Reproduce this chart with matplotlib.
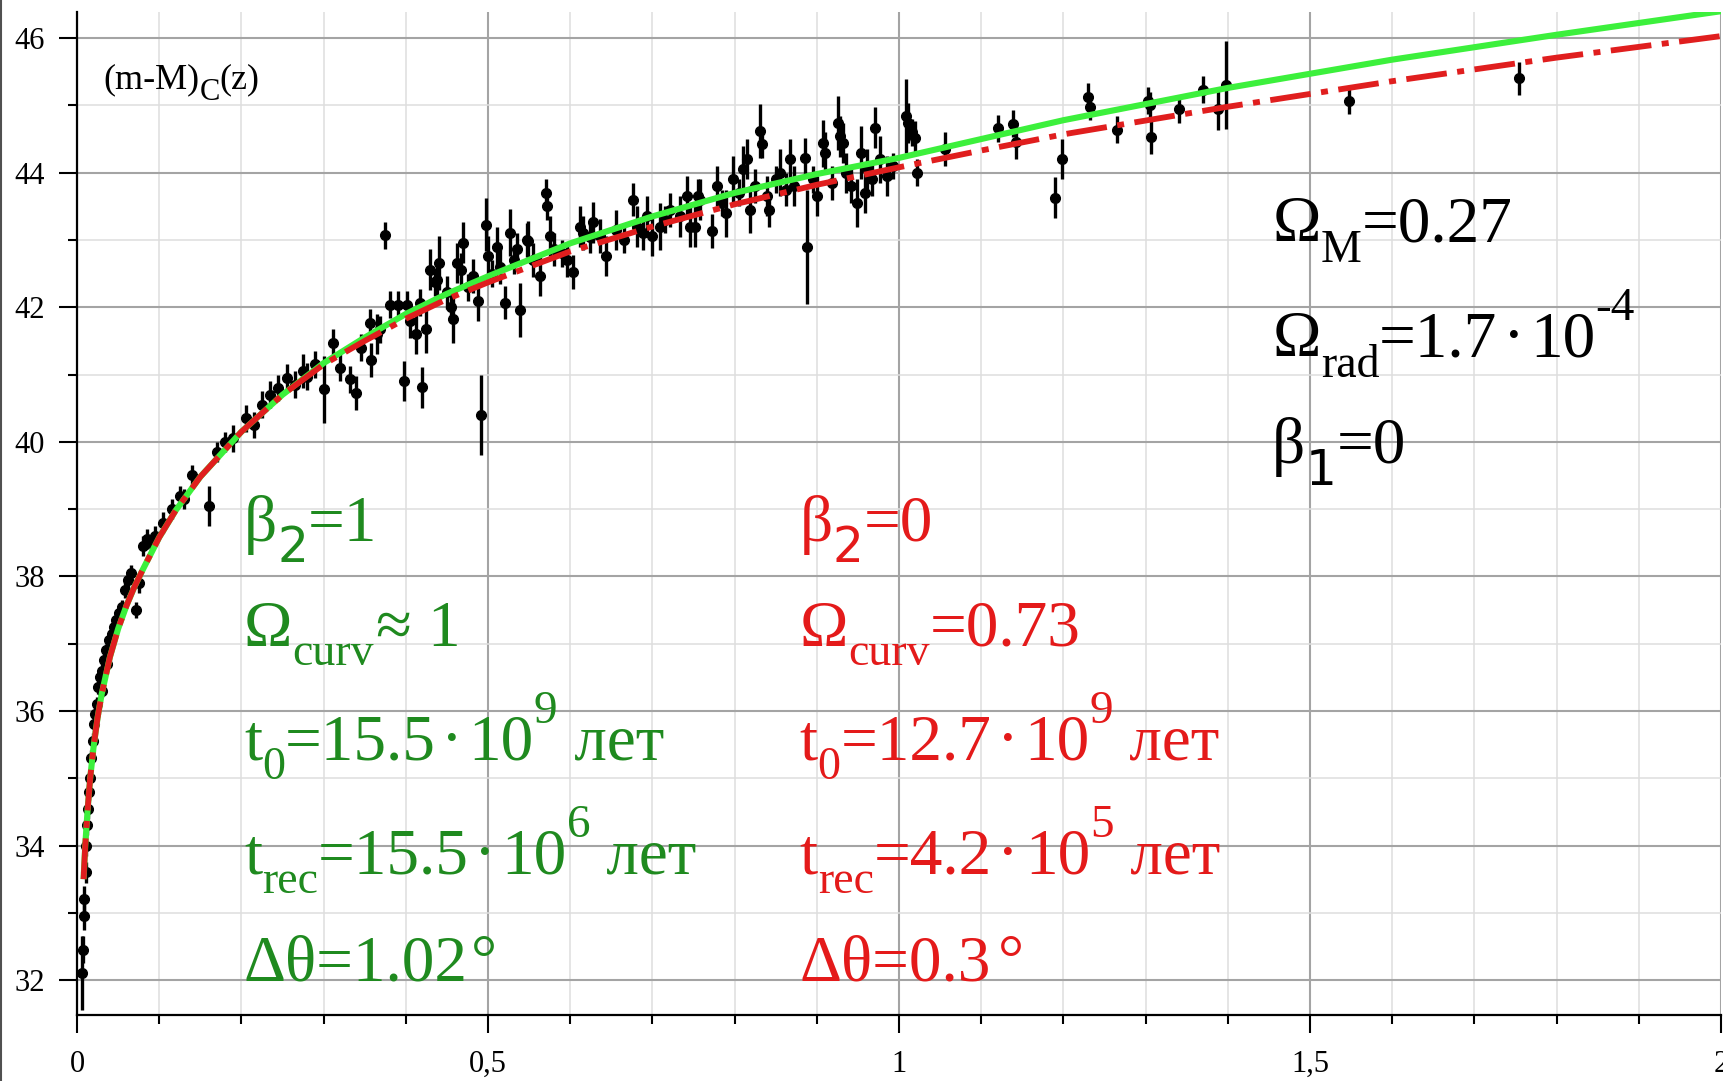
import matplotlib
matplotlib.use("Agg")
import matplotlib.pyplot as plt
from matplotlib.ticker import MultipleLocator, FixedLocator, FixedFormatter
from matplotlib.lines import Line2D

plt.rcParams['font.family'] = ['Liberation Serif', 'DejaVu Serif']

# model curves
z_curve = [0.008, 0.01, 0.013, 0.016, 0.02, 0.025, 0.03, 0.04, 0.05, 0.06, 0.07,
           0.08, 0.1, 0.12, 0.15, 0.2, 0.25, 0.3, 0.35, 0.4, 0.45, 0.5, 0.6,
           0.7, 0.8, 0.9, 1.0, 1.1, 1.2, 1.4, 1.6, 1.8, 2.0]
mu_beta1 = [33.5, 34.0, 34.55, 35.0, 35.45, 35.9, 36.25, 36.8, 37.22, 37.56, 37.85,
            38.1, 38.58, 38.98, 39.48, 40.15, 40.7, 41.17, 41.55, 41.9, 42.2, 42.46, 42.95,
            43.35, 43.7, 43.98, 44.22, 44.5, 44.78, 45.26, 45.68, 46.05, 46.4]
mu_beta0 = [33.5, 34.0, 34.55, 35.0, 35.45, 35.9, 36.25, 36.8, 37.22, 37.56, 37.85,
            38.1, 38.58, 38.98, 39.48, 40.15, 40.7, 41.15, 41.5, 41.83, 42.12, 42.37, 42.83,
            43.2, 43.53, 43.82, 44.08, 44.33, 44.57, 44.98, 45.36, 45.71, 46.03]

# supernova data: redshift, distance modulus, error
z_sn = [0.0065, 0.0075, 0.0085, 0.009, 0.0105, 0.011, 0.0125, 0.0135, 0.0145, 0.016,
        0.017, 0.019, 0.0205, 0.022, 0.024, 0.026, 0.028, 0.03, 0.031, 0.033,
        0.035, 0.037, 0.039, 0.042, 0.045, 0.048, 0.051, 0.055, 0.058, 0.062,
        0.066, 0.072, 0.076, 0.08, 0.085, 0.09, 0.095,
        0.105, 0.115, 0.125, 0.13, 0.14, 0.16, 0.17, 0.18, 0.19, 0.205,
        0.215, 0.225, 0.235, 0.245, 0.255, 0.265, 0.275, 0.28, 0.29, 0.30,
        0.312, 0.32, 0.332, 0.34, 0.345, 0.356, 0.358, 0.365, 0.369, 0.375,
        0.381, 0.391, 0.398, 0.401, 0.405, 0.412, 0.417, 0.42, 0.425, 0.43,
        0.435, 0.438, 0.44, 0.45, 0.455, 0.458, 0.462, 0.467, 0.47, 0.476,
        0.482, 0.488, 0.492, 0.498, 0.5, 0.505, 0.511, 0.515, 0.521, 0.527,
        0.532, 0.535, 0.539, 0.547, 0.549, 0.555, 0.563, 0.57, 0.572, 0.575,
        0.58, 0.59, 0.596, 0.603, 0.612, 0.616, 0.624, 0.628, 0.636, 0.644,
        0.656, 0.665, 0.677, 0.681, 0.689, 0.693, 0.70, 0.709, 0.715, 0.721,
        0.734, 0.742, 0.746, 0.752, 0.755, 0.758, 0.772, 0.778, 0.785, 0.79,
        0.798, 0.805, 0.81, 0.815, 0.819, 0.825, 0.831, 0.833, 0.839, 0.842,
        0.85, 0.855, 0.862, 0.867, 0.872, 0.886, 0.888, 0.895, 0.90, 0.908,
        0.91, 0.918, 0.926, 0.928, 0.932, 0.936, 0.942, 0.949, 0.954, 0.959,
        0.961, 0.967, 0.971, 0.977, 0.985, 0.993, 1.009, 1.011, 1.016, 1.02,
        1.022, 1.056, 1.12, 1.139, 1.142, 1.19, 1.198, 1.23, 1.232, 1.265,
        1.303, 1.305, 1.307, 1.341, 1.37, 1.388, 1.398, 1.548, 1.754]
mu_sn = [32.1, 32.45, 32.95, 33.2, 33.6, 34.0, 34.3, 34.55, 34.8, 35.0,
         35.3, 35.55, 35.8, 35.95, 36.1, 36.35, 36.5, 36.6, 36.3, 36.75,
         36.9, 36.7, 37.05, 37.15, 37.25, 37.35, 37.45, 37.55, 37.8, 37.95,
         38.05, 37.5, 37.9, 38.45, 38.55, 38.5, 38.6,
         38.8, 39.0, 39.2, 39.15, 39.5, 39.05, 39.85, 40.0, 40.05, 40.35,
         40.25, 40.55, 40.7, 40.8, 40.95, 40.85, 41.05, 40.97, 41.15, 40.78,
         41.47, 41.1, 40.93, 40.73, 41.4, 41.77, 41.22, 41.6, 41.67, 43.07,
         42.04, 42.04, 40.9, 42.04, 41.8, 41.6, 42.07, 40.81, 41.67, 42.56,
         42.37, 42.41, 42.66, 42.22, 42.0, 41.82, 42.66, 42.55, 42.96, 42.3,
         42.46, 42.1, 40.4, 43.23, 42.76, 42.5, 42.9, 42.6, 42.07, 43.11,
         42.7, 42.86, 41.96, 43.0, 42.98, 42.7, 42.46, 43.7, 43.5, 43.06,
         42.86, 42.8, 42.7, 42.52, 43.2, 43.1, 43.05, 43.26, 43.06, 42.76,
         43.15, 43.0, 43.6, 43.2, 43.1, 43.35, 43.06, 43.2, 43.3, 43.45,
         43.35, 43.65, 43.2, 43.2, 43.65, 43.6, 43.13, 43.8, 43.55, 43.4,
         43.9, 43.7, 44.05, 44.2, 43.45, 43.8, 44.62, 44.42, 43.65, 43.45,
         43.9, 44.0, 43.75, 44.2, 43.8, 44.22, 42.9, 43.9, 43.65, 44.44,
         44.3, 43.85, 44.74, 44.54, 44.44, 44.0, 43.8, 43.55, 44.3, 43.7,
         44.05, 43.9, 44.67, 44.2, 43.95, 44.1, 44.84, 44.74, 44.6, 44.52,
         44.0, 44.35, 44.66, 44.73, 44.45, 43.63, 44.2, 45.13, 44.98, 44.64,
         45.07, 45.0, 44.53, 44.94, 45.23, 44.94, 45.3, 45.07, 45.4]
err_sn = [0.55, 0.2, 0.2, 0.2, 0.15, 0.15, 0.15, 0.15, 0.12, 0.12,
          0.12, 0.12, 0.12, 0.12, 0.1, 0.1, 0.1, 0.12, 0.1, 0.1,
          0.1, 0.1, 0.1, 0.1, 0.1, 0.1, 0.1, 0.1, 0.12, 0.12,
          0.12, 0.12, 0.15, 0.15, 0.15, 0.12, 0.15,
          0.15, 0.15, 0.15, 0.15, 0.15, 0.3, 0.15, 0.15, 0.2, 0.2,
          0.2, 0.2, 0.2, 0.2, 0.2, 0.2, 0.25, 0.2, 0.2, 0.5,
          0.2, 0.2, 0.2, 0.25, 0.2, 0.2, 0.25, 0.3, 0.2, 0.2,
          0.2, 0.2, 0.3, 0.2, 0.25, 0.3, 0.2, 0.3, 0.35, 0.3,
          0.2, 0.25, 0.4, 0.25, 0.2, 0.35, 0.3, 0.25, 0.3, 0.2,
          0.25, 0.3, 0.6, 0.4, 0.3, 0.2, 0.3, 0.25, 0.25, 0.35,
          0.2, 0.25, 0.4, 0.25, 0.3, 0.25, 0.3, 0.2, 0.2, 0.3,
          0.25, 0.2, 0.25, 0.25, 0.3, 0.25, 0.25, 0.3, 0.25, 0.3,
          0.3, 0.2, 0.25, 0.3, 0.25, 0.3, 0.3, 0.35, 0.2, 0.25,
          0.3, 0.3, 0.3, 0.3, 0.25, 0.3, 0.25, 0.3, 0.2, 0.35,
          0.35, 0.2, 0.35, 0.3, 0.35, 0.25, 0.4, 0.2, 0.3, 0.25,
          0.2, 0.35, 0.25, 0.3, 0.3, 0.3, 0.85, 0.2, 0.3, 0.35,
          0.3, 0.25, 0.4, 0.3, 0.3, 0.3, 0.25, 0.35, 0.4, 0.3,
          0.3, 0.25, 0.3, 0.35, 0.3, 0.2, 0.55, 0.3, 0.2, 0.25,
          0.2, 0.25, 0.2, 0.2, 0.25, 0.3, 0.3, 0.2, 0.2, 0.2,
          0.2, 0.2, 0.25, 0.2, 0.2, 0.3, 0.65, 0.2, 0.25]

x_ticks = [0, 0.5, 1, 1.5, 2]
x_labels = ['0', '0,5', '1', '1,5', '2']
y_ticks = [32, 34, 36, 38, 40, 42, 44, 46]

green_text = '#1f8a1f'
red_text = '#e41a1a'

fig = plt.figure(figsize=(17.23, 10.81), dpi=100)
ax = fig.add_axes([0.0447, 0.061, 0.9541, 0.928])

ax.errorbar(z_sn, mu_sn, yerr=err_sn, fmt='o', color='black', ms=7,
            elinewidth=2.4, capsize=0, zorder=3)
ax.plot(z_curve, mu_beta1, color='#3cf03c', lw=4.4, zorder=4,
        solid_capstyle='butt')
ax.plot(z_curve, mu_beta0, color='#e01e1e', lw=4.2, zorder=5,
        dashes=(7, 1.8, 1.2, 1.8), dash_capstyle='butt')

ax.set_xlim(0, 2)
ax.set_ylim(31.48, 46.39)

ax.xaxis.set_major_locator(FixedLocator(x_ticks))
ax.xaxis.set_major_formatter(FixedFormatter(x_labels))
ax.xaxis.set_minor_locator(MultipleLocator(0.1))
ax.yaxis.set_major_locator(FixedLocator(y_ticks))
ax.yaxis.set_minor_locator(MultipleLocator(1))

ax.grid(which='major', color='#a4a4a4', lw=1.5, zorder=0)
ax.grid(which='minor', color='#dedede', lw=1.1, zorder=0)
ax.set_axisbelow(True)

for s in ['top', 'right']:
    ax.spines[s].set_visible(False)
for s in ['left', 'bottom']:
    ax.spines[s].set_linewidth(1.6)
    ax.spines[s].set_color('black')

ax.tick_params(which='major', direction='out', length=13, width=1.5,
               labelsize=22, colors='black', pad=10)
ax.tick_params(which='minor', direction='out', length=6.5, width=1.5)
ax.tick_params(axis='x', which='major', pad=12)
for lab in ax.get_xticklabels() + ax.get_yticklabels():
    lab.set_family('Liberation Serif')


def chain(x, y, segs, color, size, sub=33, sup=34, drop=14, rise=26, sans=35):
    # pieces of one line: 'n' normal, 'b' subscript, 's' sans subscript, 'p' superscript
    prev = None
    for seg in segs:
        s, kind = seg[0], seg[1]
        dx = seg[2] if len(seg) > 2 else 0
        fs, dy, fam = size, 0, 'Liberation Serif'
        if kind == 'b':
            fs, dy = sub, -drop
        elif kind == 's':
            fs, dy, fam = sans, -drop - 1, 'DejaVu Sans'
        elif kind == 'p':
            fs, dy = sup, rise
        if prev is None:
            prev = ax.annotate(s, xy=(x, y), xycoords='data', xytext=(dx, dy),
                               textcoords='offset points', fontsize=fs, color=color,
                               family=fam, va='baseline', ha='left', zorder=6,
                               annotation_clip=False)
        else:
            prev = ax.annotate(s, xy=(1, y), xycoords=(prev, 'data'), xytext=(dx, dy),
                               textcoords='offset points', fontsize=fs, color=color,
                               family=fam, va='baseline', ha='left', zorder=6,
                               annotation_clip=False)


chain(0.032, 45.26, [('(m-M)', 'n'), ('C', 'b'), ('(z)', 'n')], 'black', 26,
      sub=22, drop=9)

big = 47
rows = [38.53, 36.97, 35.28, 33.59, 32.0]
green_lines = [[('β', 'n'), ('2', 's'), ('=1', 'n')],
               [('Ω', 'n'), ('curv', 'b'), ('≈', 'n', 1), ('1', 'n', 12)],
               [('t', 'n'), ('0', 'b'), ('=15.5', 'n'), ('·', 'n', 4), ('10', 'n', 4),
                ('9', 'p'), (' лет', 'n')],
               [('t', 'n'), ('rec', 'b'), ('=15.5', 'n'), ('·', 'n', 4), ('10', 'n', 4),
                ('6', 'p'), (' лет', 'n')],
               [('Δθ=1.02', 'n'), ('°', 'n', 2)]]
red_lines = [[('β', 'n'), ('2', 's'), ('=0', 'n')],
             [('Ω', 'n'), ('curv', 'b'), ('=0.73', 'n')],
             [('t', 'n'), ('0', 'b'), ('=12.7', 'n'), ('·', 'n', 4), ('10', 'n', 4),
              ('9', 'p'), (' лет', 'n')],
             [('t', 'n'), ('rec', 'b'), ('=4.2', 'n'), ('·', 'n', 4), ('10', 'n', 4),
              ('5', 'p'), (' лет', 'n')],
             [('Δθ=0.3', 'n'), ('°', 'n', 5)]]
for yy, g, r in zip(rows, green_lines, red_lines):
    chain(0.203, yy, g, green_text, big)
    chain(0.879, yy, r, red_text, big)

black_lines = [[('Ω', 'n'), ('M', 'b'), ('=0.27', 'n')],
               [('Ω', 'n'), ('rad', 'b'), ('=1.7', 'n'), ('·', 'n', 4), ('10', 'n', 4),
                ('-4', 'p')],
               [('β', 'n'), ('1', 's'), ('=0', 'n')]]
for yy, b in zip([42.98, 41.27, 39.69], black_lines):
    chain(1.454, yy, b, 'black', big, drop=15)

fig.add_artist(Line2D([0.0008, 0.0008], [0, 1], color='#505050', lw=1.5,
                      transform=fig.transFigure))

fig.savefig('out.png', dpi=100)
